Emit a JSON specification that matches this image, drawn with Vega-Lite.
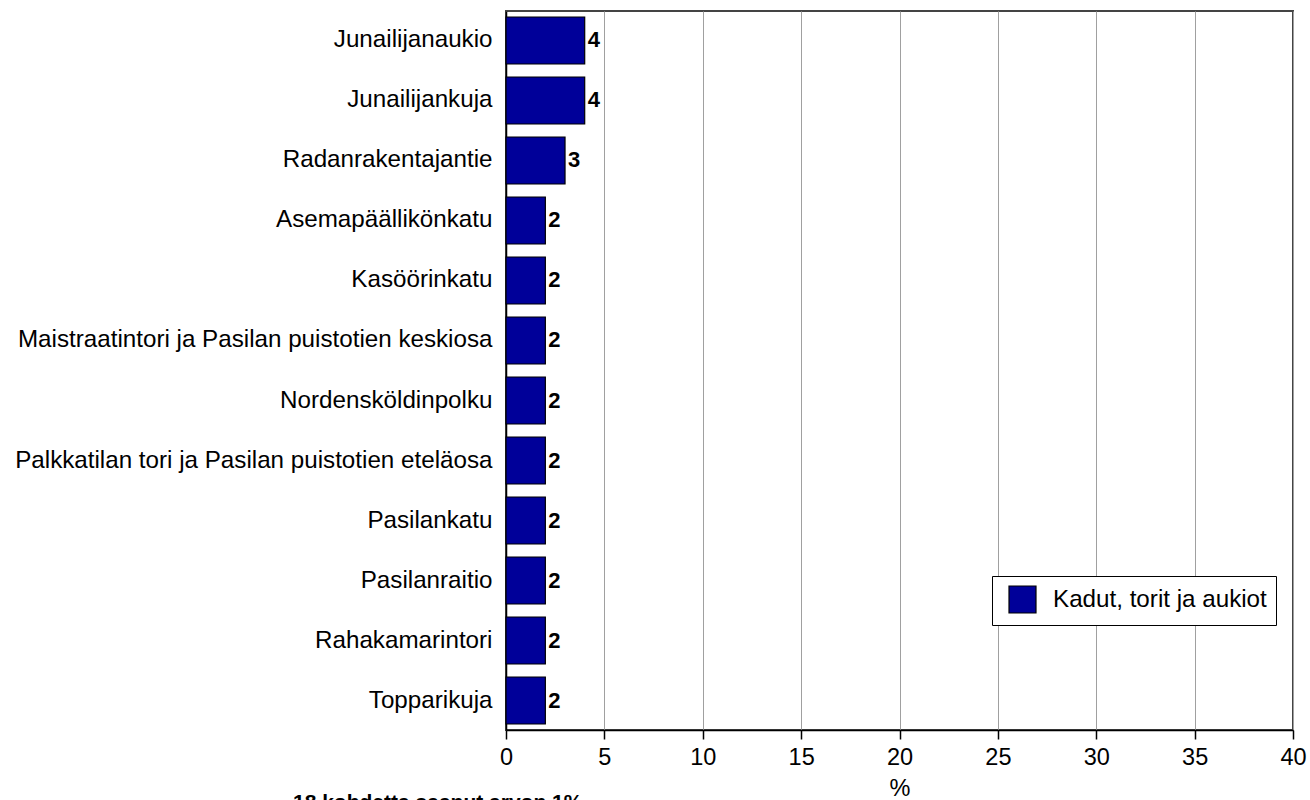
{
  "$schema": "https://vega.github.io/schema/vega-lite/v6.json",
  "width": 787,
  "height": 719,
  "autosize": {"type": "none"},
  "padding": {"left": 506, "top": 11, "right": 17, "bottom": 70},
  "background": "white",
  "title": {
    "text": "18 kohdetta saanut arvon 1%",
    "orient": "bottom",
    "anchor": "start",
    "frame": "group",
    "dx": -213,
    "offset": -8,
    "baseline": "top",
    "font": "Liberation Sans",
    "fontSize": 21,
    "fontWeight": "bold",
    "color": "black"
  },
  "data": {
    "values": [
      {"kohde": "Junailijanaukio", "arvo": 4, "ryhma": "Kadut, torit ja aukiot"},
      {"kohde": "Junailijankuja", "arvo": 4, "ryhma": "Kadut, torit ja aukiot"},
      {"kohde": "Radanrakentajantie", "arvo": 3, "ryhma": "Kadut, torit ja aukiot"},
      {"kohde": "Asemapäällikönkatu", "arvo": 2, "ryhma": "Kadut, torit ja aukiot"},
      {"kohde": "Kasöörinkatu", "arvo": 2, "ryhma": "Kadut, torit ja aukiot"},
      {"kohde": "Maistraatintori ja Pasilan puistotien keskiosa", "arvo": 2, "ryhma": "Kadut, torit ja aukiot"},
      {"kohde": "Nordensköldinpolku", "arvo": 2, "ryhma": "Kadut, torit ja aukiot"},
      {"kohde": "Palkkatilan tori ja Pasilan puistotien eteläosa", "arvo": 2, "ryhma": "Kadut, torit ja aukiot"},
      {"kohde": "Pasilankatu", "arvo": 2, "ryhma": "Kadut, torit ja aukiot"},
      {"kohde": "Pasilanraitio", "arvo": 2, "ryhma": "Kadut, torit ja aukiot"},
      {"kohde": "Rahakamarintori", "arvo": 2, "ryhma": "Kadut, torit ja aukiot"},
      {"kohde": "Topparikuja", "arvo": 2, "ryhma": "Kadut, torit ja aukiot"}
    ]
  },
  "encoding": {
    "y": {
      "field": "kohde",
      "type": "nominal",
      "sort": null,
      "scale": {"paddingInner": 0.2167, "paddingOuter": 0.1},
      "axis": {
        "title": null,
        "ticks": false,
        "grid": false,
        "labelPadding": 14,
        "labelFont": "Liberation Sans",
        "labelFontSize": 24.2,
        "labelColor": "black",
        "labelLimit": 600,
        "domainColor": "black",
        "domainWidth": 1.5
      }
    },
    "x": {
      "field": "arvo",
      "type": "quantitative",
      "scale": {"domain": [0, 40], "nice": false},
      "axis": {
        "title": "%",
        "values": [0, 5, 10, 15, 20, 25, 30, 35, 40],
        "grid": true,
        "gridColor": "#a0a0a0",
        "gridWidth": 1,
        "tickColor": "black",
        "tickSize": 9,
        "tickWidth": 1.5,
        "domainColor": "black",
        "domainWidth": 1.5,
        "labelPadding": 6,
        "labelFont": "Liberation Sans",
        "labelFontSize": 23.5,
        "labelColor": "black",
        "labelFlush": false,
        "titleFont": "Liberation Sans",
        "titleFontSize": 23.5,
        "titleFontWeight": "normal",
        "titleColor": "black",
        "titlePadding": 8
      }
    }
  },
  "layer": [
    {
      "mark": {"type": "bar", "stroke": "black", "strokeWidth": 1.2},
      "encoding": {
        "color": {
          "field": "ryhma",
          "type": "nominal",
          "scale": {"range": ["#000099"]},
          "legend": {
            "title": null,
            "orient": "none",
            "legendX": 486,
            "legendY": 565,
            "symbolType": "square",
            "symbolSize": 729,
            "symbolStrokeColor": "black",
            "symbolOpacity": 1,
            "padding": 9,
            "symbolOffset": 7,
            "labelOffset": 16,
            "labelFont": "Liberation Sans",
            "labelFontSize": 24.2,
            "labelColor": "black",
            "labelLimit": 400,
            "strokeColor": "black",
            "fillColor": "white"
          }
        }
      }
    },
    {
      "mark": {
        "type": "text",
        "align": "left",
        "baseline": "middle",
        "dx": 3,
        "font": "Liberation Sans",
        "fontSize": 22,
        "fontWeight": "bold",
        "color": "black"
      },
      "encoding": {"text": {"field": "arvo", "type": "quantitative"}}
    }
  ],
  "config": {
    "view": {"stroke": "#444", "strokeWidth": 2},
    "axis": {"gridColor": "#a0a0a0"},
    "legend": {"symbolStrokeWidth": 1.2}
  }
}
